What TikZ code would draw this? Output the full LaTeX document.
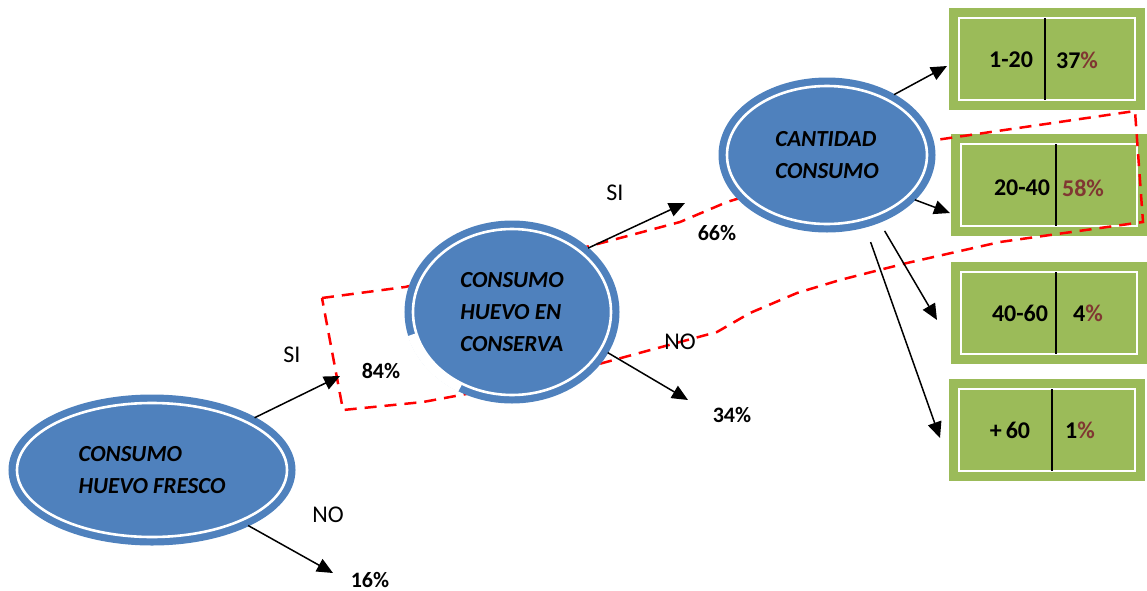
\documentclass[tikz,border=0pt]{standalone}
\usepackage{fontspec}
\setmainfont{Carlito}
\usetikzlibrary{shapes.geometric,arrows.meta}
\definecolor{eggblue}{RGB}{79,129,189}
\definecolor{boxgreen}{RGB}{155,187,89}
\definecolor{pctred}{RGB}{128,55,50}

\begin{document}
\begin{tikzpicture}[x=0.5pt,y=-0.5pt,
    egg/.style={ellipse, fill=eggblue, draw=eggblue, line width=3.6pt,
      double=white, double distance=1.3pt, outer sep=4pt, inner sep=0pt,
      align=left, font=\bfseries\itshape\fontsize{11.5}{16}\selectfont},
    rbox/.style={rectangle, fill=boxgreen, draw=boxgreen, line width=4.5pt,
      double=white, double distance=1.2pt, minimum width=88pt,
      minimum height=41pt, outer sep=0pt, inner sep=0pt},
    lbl/.style={font=\fontsize{12}{14}\selectfont},
    pct/.style={font=\bfseries\fontsize{11}{13}\selectfont},
    rng/.style={font=\bfseries\fontsize{12}{14}\selectfont},
    arr/.style={-{Triangle[length=8pt,width=7pt]}, line width=0.75pt},
    cut/.style={red, dash pattern=on 6pt off 4pt, line width=1.25pt}]

  % Canvas
  \useasboundingbox (0,0) rectangle (1147,590);

  % Result boxes
  \node[rbox] (b1) at (1047,59) {};
  \node[rbox] (b2) at (1049,185) {};
  \node[rbox] (b3) at (1049,313) {};
  \node[rbox] (b4) at (1047,430) {};

  % Dividers
  \coordinate (d1) at (1045,59);
  \coordinate (d2) at (1056,185);
  \coordinate (d3) at (1056,313);
  \coordinate (d4) at (1052,430);
  \draw[line width=0.6pt] (b1.north -| d1) -- (b1.south -| d1);
  \draw[line width=0.6pt] (b2.north -| d2) -- (b2.south -| d2);
  \draw[line width=0.6pt] (b3.north -| d3) -- (b3.south -| d3);
  \draw[line width=0.6pt] (b4.north -| d4) -- (b4.south -| d4);

  % Box texts
  \node[rng] (r1) at (1011,60) {1-20};
  \node[rng] (p1) at (1077,60) {37\textcolor{pctred}{\%}};
  \node[rng] (r2) at (1022,188) {20-40};
  \node[rng, pctred] (p2) at (1083,188) {58\%};
  \node[rng] (r3) at (1020,313) {40-60};
  \node[rng] (p3) at (1088,313) {4\textcolor{pctred}{\%}};
  \node[rng] (r4) at (1010,430) {+\,60};
  \node[rng] (p4) at (1080,430) {1\textcolor{pctred}{\%}};

  % Dashed region
  \draw[cut] (322,298) -- (405,287) -- (590,246) -- (680,222) -- (727,202)
    -- (922,142) -- (1135,111) -- (1143,222) -- (1000,242) -- (907,263)
    -- (840,280) -- (797,293) -- (750,313) -- (717,332) -- (643,352)
    -- (577,370) -- (488,390) -- (423,402) -- (343,410) -- cycle;

  % Decision ellipses
  \node[egg, minimum width=135pt, minimum height=67pt] (fresco) at (152,470)
    {CONSUMO\\HUEVO FRESCO};
  \node[egg, minimum width=99pt, minimum height=83pt] (conserva) at (512,312)
    {CONSUMO\\HUEVO EN\\CONSERVA};
  \node[egg, minimum width=100pt, minimum height=69pt] (cantidad) at (827,155)
    {CANTIDAD\\CONSUMO};

  % Gap in the outer ring
  \draw[white, line width=4.2pt] (conserva.center) ++(195:51.9pt and 43.9pt)
    arc[start angle=195, end angle=240, x radius=51.9pt, y radius=43.9pt];

  % Arrow ends
  \coordinate (t1) at (340,376);
  \coordinate (t2) at (333,573);
  \coordinate (t3) at (685,203);
  \coordinate (t4) at (688,400);
  \coordinate (t5) at (947,66);
  \coordinate (t6) at (950,213);
  \coordinate (t7) at (937,320);
  \coordinate (t8) at (940,438);

  % Arrows
  \draw[arr] (fresco.27) -- (t1);
  \draw[arr] (fresco.-30) -- (t2);
  \draw[arr] (conserva.40) -- (t3);
  \draw[arr] (conserva.-23) -- (t4);
  \draw[arr] (cantidad.42) -- (t5);
  \draw[arr] (cantidad.-27) -- (t6);
  \draw[arr, shorten <=5pt] (cantidad.-52) -- (t7);
  \draw[arr, shorten <=8pt] (cantidad.-62) -- (t8);

  % Branch labels
  \node[lbl] (si1) at (292,355) {SI};
  \node[lbl] (no1) at (328,515) {NO};
  \node[lbl] (si2) at (615,193) {SI};
  \node[lbl] (no2) at (680,342) {NO};
  \node[pct] (v84) at (381,371) {84\%};
  \node[pct] (v16) at (370,580) {16\%};
  \node[pct] (v66) at (717,233) {66\%};
  \node[pct] (v34) at (732,415) {34\%};
\end{tikzpicture}
\end{document}
